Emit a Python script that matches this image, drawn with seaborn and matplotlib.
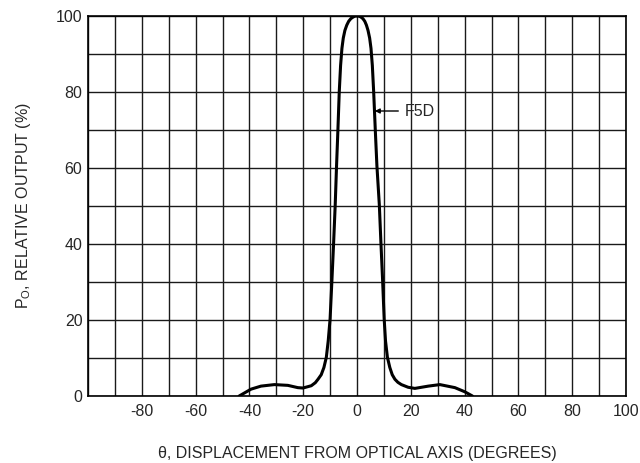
import matplotlib
matplotlib.use('Agg')
import matplotlib.pyplot as plt
import seaborn as sns
import numpy as np

# angle (degrees) vs relative output (%)
angle = [-43.8, -39.4, -35.7, -30.7, -25.7, -22.0, -20.1, -17.0, -15.5, -14.5,
         -13.3, -12.3, -11.4, -10.7, -10.0, -9.3, -8.7, -8.1, -7.6, -7.1,
         -6.6, -6.1, -5.6, -5.1, -4.5, -3.8, -3.1, -2.3, -1.5, -0.8, 0.0,
         0.8, 1.5, 2.2, 2.9, 3.5, 4.1, 4.7, 5.2, 5.7, 6.2, 6.8,
         7.4, 8.3, 8.9, 9.5, 10.1, 10.6, 11.3, 12.2, 13.1, 14.1,
         15.2, 16.5, 19.0, 21.5, 26.5, 30.8, 36.4, 40.1, 42.9]
output = [0.0, 1.8, 2.6, 3.0, 2.8, 2.2, 2.1, 2.7, 3.5, 4.4,
          5.6, 7.5, 10.2, 14.5, 20.3, 30.8, 40.2, 50.3, 60.6, 70.0,
          80.0, 87.0, 91.5, 94.2, 96.2, 97.6, 98.6, 99.3, 99.7, 99.95, 100.0,
          99.95, 99.7, 99.3, 98.6, 97.6, 96.2, 94.2, 91.5, 87.0, 80.0, 70.0,
          60.6, 50.3, 40.2, 30.8, 20.3, 14.5, 10.2, 7.5, 5.6, 4.4,
          3.6, 3.0, 2.3, 2.0, 2.6, 3.0, 2.2, 1.1, 0.0]

x_ticks = [-80, -60, -40, -20, 0, 20, 40, 60, 80, 100]
y_ticks = [0, 20, 40, 60, 80, 100]
x_grid = [-100, -90, -70, -50, -30, -10, 10, 30, 50, 70, 90]
y_grid = [10, 30, 50, 70, 90]

sns.set_style('white')
plt.rcParams['font.family'] = ['Liberation Sans', 'DejaVu Sans']
plt.rcParams['mathtext.fontset'] = 'custom'
plt.rcParams['mathtext.rm'] = 'Liberation Sans'
plt.rcParams['axes.unicode_minus'] = False

fig, ax = plt.subplots(figsize=(6.4, 4.63), dpi=100)
fig.subplots_adjust(left=88/640, right=626/640, top=1-16/463, bottom=1-396/463)

sns.lineplot(x=angle, y=output, ax=ax, color='black', linewidth=2.2,
             estimator=None, sort=False)

ax.set_xlim(-100, 100)
ax.set_ylim(0, 100)
ax.set_xticks(x_ticks)
ax.set_yticks(y_ticks)
ax.set_xticks(x_grid, minor=True)
ax.set_yticks(y_grid, minor=True)
ax.grid(True, which='both', color='#1a1a1a', linewidth=1.0)
ax.set_axisbelow(True)
ax.tick_params(which='both', length=0, labelsize=11.5)
ax.tick_params(axis='x', pad=6)
ax.tick_params(axis='y', pad=4)
for s in ax.spines.values():
    s.set_color('black')
    s.set_linewidth(1.2)

ax.set_xlabel('\u03b8, DISPLACEMENT FROM OPTICAL AXIS (DEGREES)', fontsize=11.5)
ax.set_ylabel(r'P$_{\mathregular{O}}$, RELATIVE OUTPUT (%)', fontsize=11.5)
ax.xaxis.set_label_coords(0.5, -0.132)
ax.yaxis.set_label_coords(-0.102, 0.5)

ax.annotate('F5D', xy=(6.6, 75), xytext=(17.6, 75), fontsize=11.5,
            ha='left', va='center',
            arrowprops=dict(arrowstyle='-|>', color='black', lw=1,
                            mutation_scale=7, shrinkA=2, shrinkB=0))

fig.savefig('out.png', dpi=100)
